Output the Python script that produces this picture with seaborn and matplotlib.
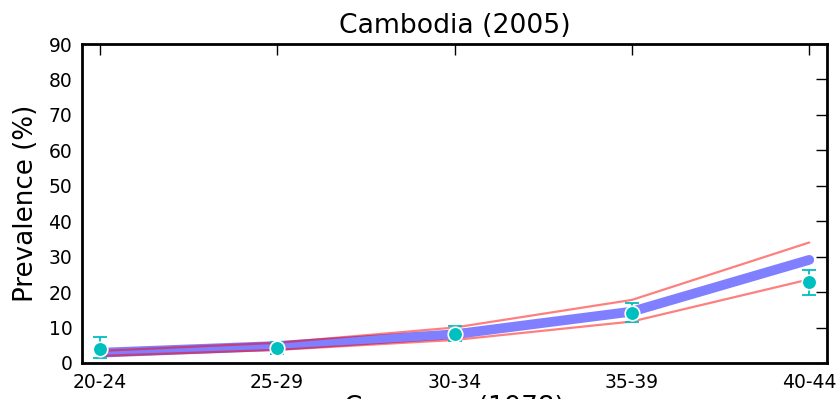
# -*- coding: utf-8 -*-
import matplotlib
matplotlib.use("Agg")
import pandas as pd
import matplotlib.pyplot as plt
import seaborn as sns

# ====== DATA ======
AGE_GROUPS = ["20-24", "25-29", "30-34", "35-39", "40-44"]
MODEL_MEAN = [2.9, 4.8, 8.1, 14.5, 29.1]
MODEL_LOWER = [2.0, 3.7, 6.5, 11.7, 23.6]
MODEL_UPPER = [3.4, 5.7, 10.0, 17.8, 34.0]
OBS_VALUE = [4.0, 4.2, 8.2, 14.0, 22.8]
OBS_LOW = [1.3, 2.5, 6.2, 11.7, 19.2]
OBS_HIGH = [7.2, 6.0, 10.3, 16.9, 26.3]
TITLE = "Cambodia (2005)"
# ==================


def main():
    sns.set_style("white")
    plt.rcParams["font.family"] = ["DejaVu Sans"]
    for key in ["text.color", "axes.labelcolor", "xtick.color", "ytick.color"]:
        plt.rcParams[key] = "black"

    df = pd.DataFrame({
        "Age": AGE_GROUPS,
        "Mean": MODEL_MEAN,
        "Lower": MODEL_LOWER,
        "Upper": MODEL_UPPER,
        "Obs": OBS_VALUE,
        "ObsLow": OBS_LOW,
        "ObsHigh": OBS_HIGH,
    })

    fig = plt.figure(figsize=(8.39, 3.99), dpi=100)
    ax = fig.add_axes([82 / 839, 1 - 363 / 399, 745 / 839, 319 / 399])

    # model fit and uncertainty band edges
    sns.lineplot(data=df, x="Age", y="Mean", ax=ax, color="blue", alpha=0.5,
                 linewidth=7, sort=False)
    sns.lineplot(data=df, x="Age", y="Lower", ax=ax, color="red", alpha=0.5,
                 linewidth=1.6, sort=False)
    sns.lineplot(data=df, x="Age", y="Upper", ax=ax, color="red", alpha=0.5,
                 linewidth=1.6, sort=False)

    # observed data with error bars
    yerr = [df["Obs"] - df["ObsLow"], df["ObsHigh"] - df["Obs"]]
    ax.errorbar(df["Age"], df["Obs"], yerr=yerr, fmt="none", ecolor="c",
                elinewidth=1.3, capsize=5, capthick=1.3, zorder=4)
    sns.scatterplot(data=df, x="Age", y="Obs", ax=ax, color="c", s=110,
                    edgecolor="white", linewidth=1.2, zorder=5)

    ax.set_xlim(-0.1, 4.1)
    ax.set_ylim(0, 90)
    ax.set_yticks(range(0, 91, 10))
    ax.set_title(TITLE, fontsize=19.2, pad=8)
    ax.set_ylabel("Prevalence (%)", fontsize=18.8, labelpad=7)
    ax.set_xlabel("Coverage (1978)", fontsize=18.8, labelpad=2.5)

    ax.tick_params(direction="in", top=True, right=True, length=8, width=1,
                   labelsize=13.5, pad=7, color="black")
    for side in ax.spines.values():
        side.set_linewidth(2)
        side.set_color("black")

    fig.savefig("out.png", dpi=100)
    plt.close(fig)


if __name__ == "__main__":
    main()
